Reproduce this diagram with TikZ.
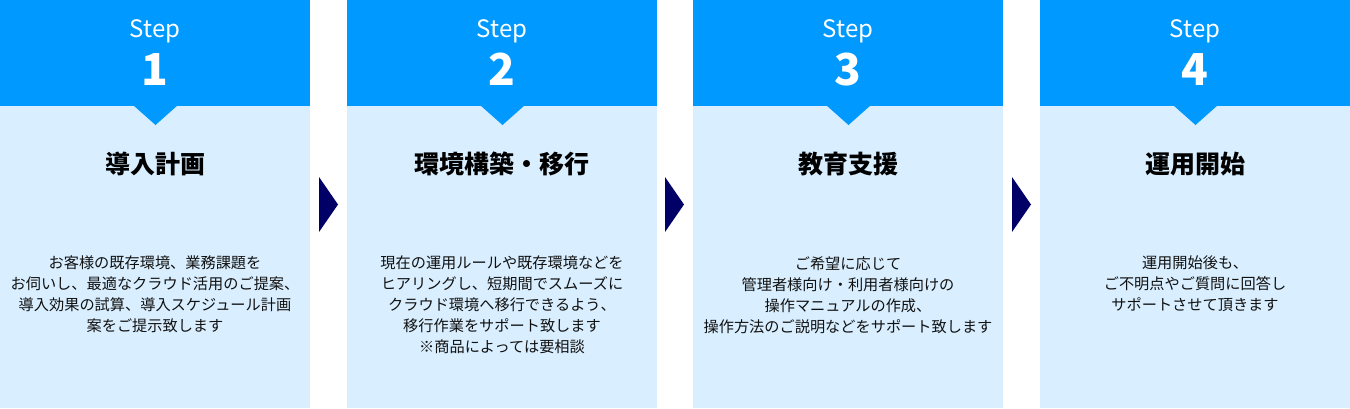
\documentclass[tikz,border=0pt]{standalone}
\usepackage{fontspec}
\setmainfont{Noto Sans CJK JP}
\definecolor{headblue}{HTML}{0099FF}
\definecolor{bodyblue}{HTML}{D9EFFF}
\definecolor{arrownavy}{HTML}{000066}
\definecolor{txt}{HTML}{111111}
\tikzset{
  steplbl/.style={anchor=base,inner sep=0pt,text=white,font=\fontsize{24}{28}\selectfont},
  stepnum/.style={anchor=base,inner sep=0pt,text=white,font=\fontsize{44}{48}\selectfont\bfseries},
  titletxt/.style={anchor=base,inner sep=0pt,text=black,font=\fontsize{25}{30}\selectfont\bfseries},
  bodytxt/.style={anchor=north,inner sep=0pt,text=txt,align=center,font=\fontsize{15.2}{21}\selectfont},
  colbody/.style={fill=bodyblue},
  colhead/.style={fill=headblue},
  nextarrow/.style={fill=arrownavy},
}
\begin{document}
\begin{tikzpicture}[x=1pt,y=-1pt]
\useasboundingbox[fill=white] (0,0) rectangle (1350,408);
\foreach \x in {0,347,693,1040}{
  \fill[colbody] (\x,106) rectangle (\x+310,408);
  \fill[colhead] (\x,0) rectangle (\x+310,106);
  \fill[colhead] (\x+133,105) -- (\x+178,105) -- (\x+155.5,125) -- cycle;
}
\foreach \x in {319,665,1012}{
  \fill[nextarrow] (\x,177) -- (\x+19,204.5) -- (\x,232) -- cycle;
}
% Step 1
\node[steplbl] (s1) at (155,37) {Step};
\node[stepnum] (n1) at (155,85) {1};
\node[titletxt] (t1) at (155,173) {導入計画};
\node[bodytxt] (b1) at (155,256) {お客様の既存環境、業務課題を\\お伺いし、最適なクラウド活用のご提案、\\導入効果の試算、導入スケジュール計画\\案をご提示致します};
% Step 2
\node[steplbl] (s2) at (502,37) {Step};
\node[stepnum] (n2) at (502,85) {2};
\node[titletxt] (t2) at (502,173) {環境構築・移行};
\node[bodytxt] (b2) at (502,256) {現在の運用ルールや既存環境などを\\ヒアリングし、短期間でスムーズに\\クラウド環境へ移行できるよう、\\移行作業をサポート致します\\※商品によっては要相談};
% Step 3
\node[steplbl] (s3) at (848,37) {Step};
\node[stepnum] (n3) at (848,85) {3};
\node[titletxt] (t3) at (848,173) {教育支援};
\node[bodytxt] (b3) at (848,256) {ご希望に応じて\\管理者様向け・利用者様向けの\\操作マニュアルの作成、\\操作方法のご説明などをサポート致します};
% Step 4
\node[steplbl] (s4) at (1195,37) {Step};
\node[stepnum] (n4) at (1195,85) {4};
\node[titletxt] (t4) at (1195,173) {運用開始};
\node[bodytxt] (b4) at (1195,256) {運用開始後も、\\ご不明点やご質問に回答し\\サポートさせて頂きます};
\end{tikzpicture}
\end{document}
